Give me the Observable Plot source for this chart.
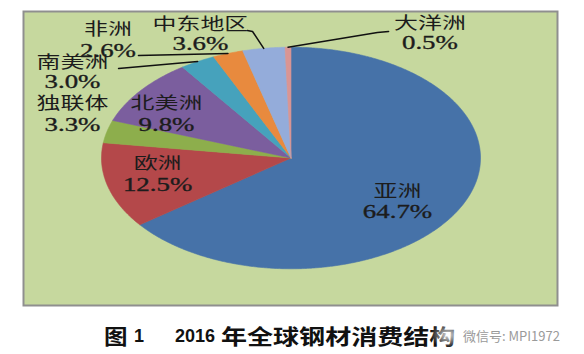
<!DOCTYPE html>
<html>
<head>
<meta charset="utf-8">
<script src="https://cdn.jsdelivr.net/npm/d3@7"></script>
<script src="https://cdn.jsdelivr.net/npm/@observablehq/plot@0.6"></script>
<style>
  html, body { margin: 0; padding: 0; background: #fff; }
  #wrap { position: relative; width: 584px; height: 354px; overflow: hidden; }
  #wrap svg { display: block; }
  .cap { position: absolute; top: 324px; line-height: 22px; font-weight: bold; color: #111; white-space: pre; transform-origin: left center; }
  .cj { font-family: "Noto Sans CJK SC", sans-serif; font-size: 21px; }
  .num { font-family: "Liberation Sans", Arial, sans-serif; font-size: 18px; }
  #wm { position: absolute; left: 463px; top: 329px; font-family: "Noto Sans CJK SC", sans-serif; font-size: 13px; line-height: 14px; color: #9a9a9a; white-space: pre; }
  #glow { position: absolute; left: 430px; top: 322px; width: 36px; height: 26px; border-radius: 50%;
          background: radial-gradient(closest-side, rgba(255,255,255,0.85), rgba(255,255,255,0)); }
</style>
</head>
<body>
<div id="wrap"></div>
<script>
// ---- data ----
const names = ["亚洲", "欧洲", "独联体", "北美洲", "南美洲", "非洲", "中东地区", "大洋洲"];
const shares = [64.7, 12.5, 3.3, 9.8, 3.0, 2.6, 3.6, 0.5];
const pctLabels = ["64.7%", "12.5%", "3.3%", "9.8%", "3.0%", "2.6%", "3.6%", "0.5%"];
const colors = ["#4672A8", "#B4484A", "#8DAE4C", "#7B5E9E", "#46A2BC", "#E88A3E", "#94ACDA", "#D99594"];

// ---- label layout (unit pie coordinates) ----
const labelX = [0.562, -0.704, -1.153, -0.657, -1.153, -0.966, -0.478, 0.733];
const nameY  = [-0.310, -0.058, 0.484, 0.484, 0.854, 1.152, 1.197, 1.206];
const pctY   = [-0.492, -0.248, 0.293, 0.293, 0.681, 0.961, 1.024, 1.033];
// leader-line start points at the label side (by slice name)
const leaderStarts = {
  "南美洲": [[-0.910, 0.808]],
  "非洲": [[-0.805, 0.925]],
  "中东地区": [[-0.230, 1.151], [-0.203, 1.142]],
  "大洋洲": [[0.515, 1.142], [0.456, 1.133]]
};

// ---- geometry from the data ----
const total = d3.sum(shares);
let acc = 0;
const slices = names.map((name, i) => {
  const a0 = acc / total * 2 * Math.PI;
  acc += shares[i];
  const a1 = acc / total * 2 * Math.PI;
  const n = Math.max(2, Math.ceil((a1 - a0) / (Math.PI / 360)));
  const pts = [{x: 0, y: 0}];
  for (let k = 0; k <= n; k++) {
    const a = a0 + (a1 - a0) * k / n;
    pts.push({x: Math.sin(a), y: Math.cos(a)});
  }
  pts.push({x: 0, y: 0});
  const am = (a0 + a1) / 2;
  return {name, color: colors[i], pts, mid: [Math.sin(am), Math.cos(am)]};
});

const leaderRows = [];
slices.forEach(s => {
  const st = leaderStarts[s.name];
  if (!st) return;
  st.forEach(p => leaderRows.push({name: s.name, x: p[0], y: p[1]}));
  leaderRows.push({name: s.name, x: s.mid[0], y: s.mid[1]});
});

const labelRows = names.map((name, i) => ({name, pct: pctLabels[i], x: labelX[i], ny: nameY[i], py: pctY[i]}));

const chart = Plot.plot({
  width: 584,
  height: 316,
  marginLeft: 23, marginTop: 11, marginRight: 27, marginBottom: 11,
  x: {domain: [-1, 1], range: [101, 480], axis: null},
  y: {domain: [-1, 1], range: [268.3, 46.7], axis: null},
  style: {background: "white", overflow: "visible"},
  marks: [
    Plot.frame({fill: "#C6D89E", stroke: "#8f8f8f", strokeWidth: 2}),
    ...slices.map(s => Plot.line(s.pts, {x: "x", y: "y", fill: s.color, stroke: s.color, strokeWidth: 0.6})),
    Plot.line(leaderRows, {x: "x", y: "y", z: "name", stroke: "#111", strokeWidth: 1.5}),
    Plot.text(labelRows, {x: "x", y: "ny", text: "name", fontSize: 16.5, fill: "#1c1c1c",
      lineHeight: 0.9, fontFamily: "'Noto Sans CJK SC', sans-serif"}),
    Plot.text(labelRows, {x: "x", y: "py", text: "pct", fontSize: 18.5, fill: "#1c1c1c",
      stroke: "#1c1c1c", strokeWidth: 0.35,
      fontFamily: "'Liberation Serif', 'Times New Roman', serif"})
  ]
});

const wrap = document.getElementById("wrap");
wrap.appendChild(chart);
// the reference picture is stretched horizontally: widen every label the same way
chart.querySelectorAll("text").forEach(t => {
  const len = t.getComputedTextLength();
  t.setAttribute("textLength", (len * 1.45).toFixed(1));
  t.setAttribute("lengthAdjust", "spacingAndGlyphs");
});

// caption below the SVG
const parts = [
  {t: "图", cls: "cj", left: 104, sx: 1.12},
  {t: "1", cls: "num", left: 134},
  {t: "2016", cls: "num", left: 175},
  {t: "年全球钢材消费结构", cls: "cj", left: 221, sx: 1.24}
];
parts.forEach(p => {
  const d = document.createElement("div");
  d.className = "cap " + p.cls;
  d.style.left = p.left + "px";
  if (p.sx) d.style.transform = "scaleX(" + p.sx + ")";
  if (p.cls === "num") d.style.top = "325px";
  d.textContent = p.t;
  wrap.appendChild(d);
});
const glow = document.createElement("div");
glow.id = "glow";
wrap.appendChild(glow);
const wm = document.createElement("div");
wm.id = "wm";
wm.textContent = "微信号: MPI1972";
wrap.appendChild(wm);
</script>
</body>
</html>
